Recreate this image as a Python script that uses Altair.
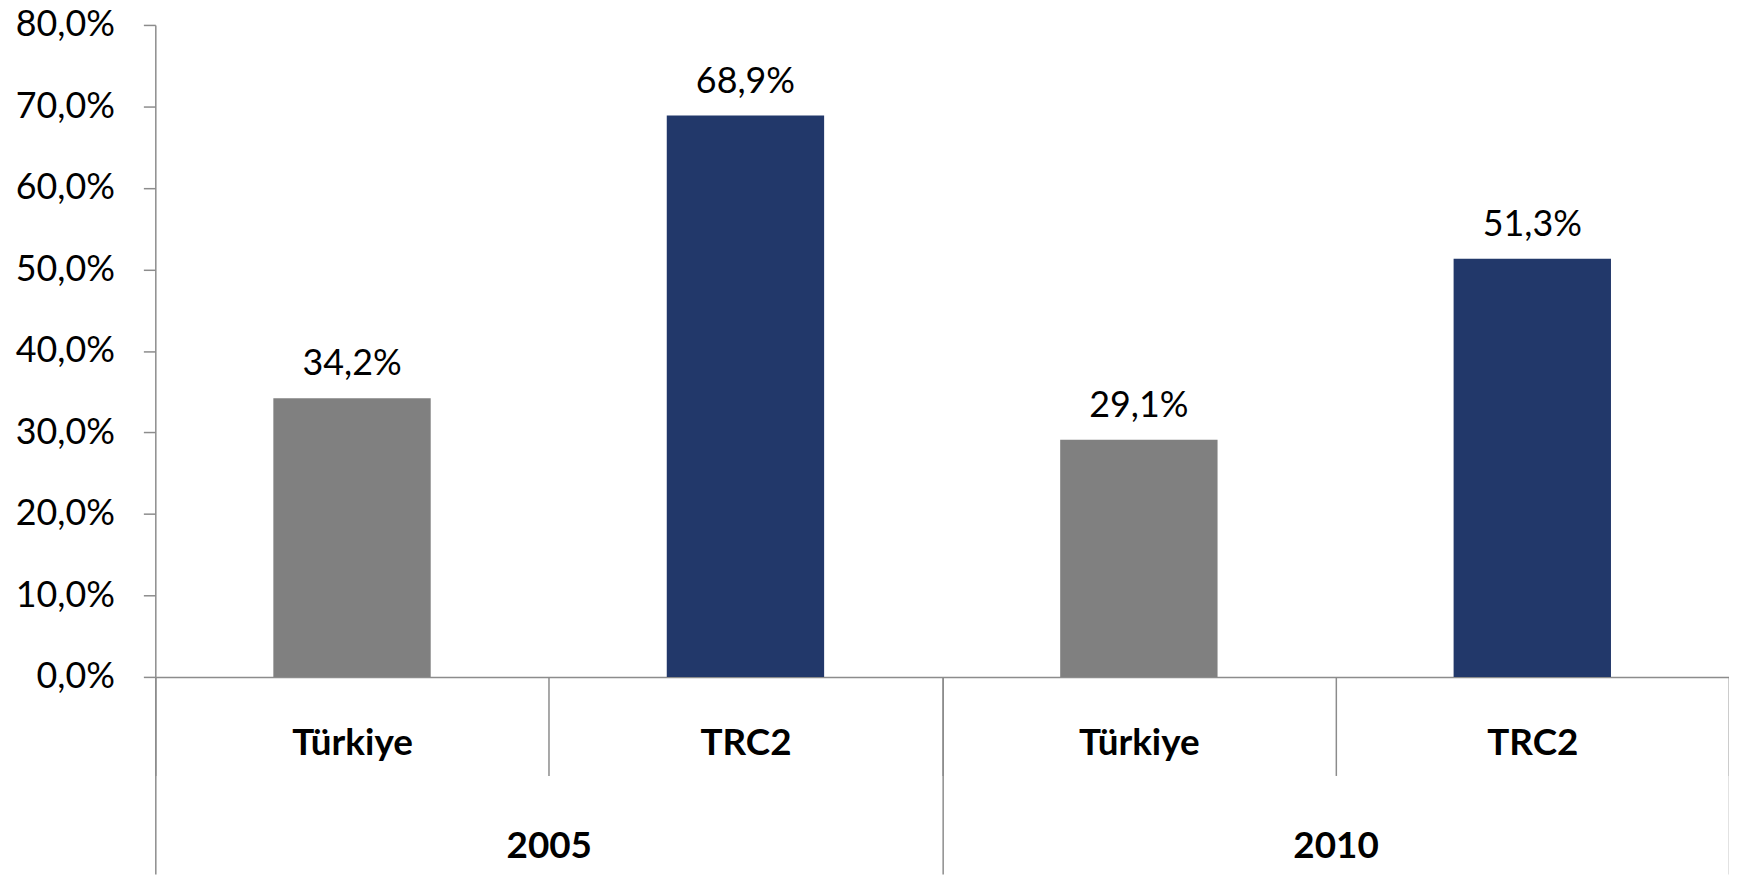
import altair as alt
import pandas as pd

years = ["2005", "2005", "2010", "2010"]
regions = ["Türkiye", "TRC2", "Türkiye", "TRC2"]
values = [34.2, 68.9, 29.1, 51.3]
year_labels = ["2005", "2010"]
y_ticks = [0, 10, 20, 30, 40, 50, 60, 70, 80]

df = pd.DataFrame({"year": years, "region": regions, "value": values})
df["key"] = df["year"] + "|" + df["region"]
order = list(df["key"])

FONT = "Lato"
GREY_LINE = "#8c8c8c"

base = alt.Chart(df).transform_calculate(
    label="replace(format(datum.value, '.1f'), '.', ',') + '%'"
)

x_bar = alt.X(
    "key:N",
    sort=order,
    scale=alt.Scale(paddingInner=0.6, paddingOuter=0.3),
    axis=None,
)

y_enc = alt.Y(
    "value:Q",
    scale=alt.Scale(domain=[0, 80], nice=False),
    axis=alt.Axis(
        title=None,
        values=y_ticks,
        labelExpr="replace(format(datum.value, '.1f'), '.', ',') + '%'",
        labelFont=FONT,
        labelFontSize=36,
        labelColor="#000000",
        labelPadding=29,
        tickSize=12,
        tickColor=GREY_LINE,
        tickWidth=1.5,
        domainColor=GREY_LINE,
        domainWidth=1.5,
        grid=False,
    ),
)

bars = base.mark_bar().encode(
    x=x_bar,
    y=y_enc,
    color=alt.Color(
        "region:N",
        scale=alt.Scale(domain=["Türkiye", "TRC2"], range=["#808080", "#22386A"]),
        legend=None,
    ),
)

labels = base.mark_text(
    font=FONT, fontSize=36, color="#000000", baseline="alphabetic", dy=-23
).encode(x=alt.X("key:N", sort=order), y="value:Q", text="label:N")

cat_layer = alt.Chart(df).mark_point(opacity=0).encode(
    x=alt.X(
        "key:N",
        sort=order,
        scale=alt.Scale(paddingInner=0, paddingOuter=0),
        axis=alt.Axis(
            title=None,
            orient="bottom",
            labelExpr="split(datum.value, '|')[1]",
            labelFont=FONT,
            labelFontWeight="bold",
            labelFontSize=37,
            labelColor="#000000",
            labelAngle=0,
            labelBaseline="middle",
            tickBand="extent",
            tickSize=99,
            tickColor=GREY_LINE,
            tickWidth=1.5,
            labelPadding=-32,
            domainColor=GREY_LINE,
            domainWidth=1.5,
        ),
    ),
    y=alt.value(0),
)

year_df = pd.DataFrame({"year": year_labels})
year_layer = alt.Chart(year_df).mark_point(opacity=0).encode(
    x=alt.X(
        "year:N",
        sort=year_labels,
        scale=alt.Scale(paddingInner=0, paddingOuter=0),
        axis=alt.Axis(
            title=None,
            orient="bottom",
            labelFont=FONT,
            labelFontWeight="bold",
            labelFontSize=37,
            labelColor="#000000",
            labelAngle=0,
            labelBaseline="middle",
            tickBand="extent",
            tickSize=198,
            tickColor=GREY_LINE,
            tickWidth=1.5,
            labelPadding=-28,
            domain=False,
        ),
    ),
    y=alt.value(0),
)

chart = (
    alt.layer(alt.layer(bars, labels), cat_layer, year_layer)
    .resolve_scale(x="independent")
    .properties(
        width=1581,
        height=655,
        autosize=alt.AutoSizeParams(type="none"),
        padding={"left": 148, "top": 15, "right": 0, "bottom": 198},
    )
    .configure_view(stroke=None)
)

chart.save("out.html", embed_options={"renderer": "svg", "actions": False})
